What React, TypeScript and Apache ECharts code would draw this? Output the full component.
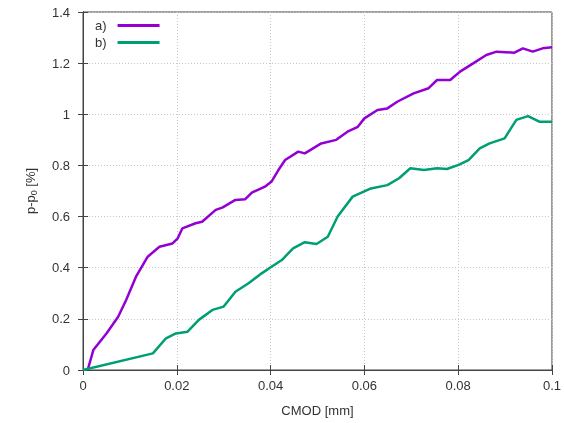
import React, { useEffect, useRef } from "react";
import * as echarts from "echarts";

const seriesNames = ["a)", "b)"];
const xTicks = { min: 0, max: 0.1, interval: 0.02 };
const yTicks = { min: 0, max: 1.4, interval: 0.2 };

const seriesA: [number, number][] = [
  [0.001, 0], [0.0022, 0.078], [0.005, 0.143], [0.0075, 0.208], [0.0092, 0.274],
  [0.0113, 0.365], [0.0138, 0.443], [0.0163, 0.482], [0.0191, 0.495], [0.0202, 0.515],
  [0.0212, 0.554], [0.024, 0.574], [0.0254, 0.58], [0.0283, 0.626], [0.0297, 0.635],
  [0.0325, 0.665], [0.0346, 0.668], [0.036, 0.694], [0.0388, 0.717], [0.0402, 0.737],
  [0.0416, 0.78], [0.0431, 0.821], [0.0459, 0.854], [0.0473, 0.847], [0.0508, 0.886],
  [0.054, 0.9], [0.0564, 0.932], [0.0586, 0.951], [0.06, 0.984], [0.0628, 1.017],
  [0.0649, 1.023], [0.067, 1.049], [0.0705, 1.082], [0.0737, 1.102], [0.0755, 1.134],
  [0.0783, 1.134], [0.0804, 1.167], [0.0832, 1.199], [0.086, 1.232], [0.0882, 1.245],
  [0.092, 1.241], [0.0938, 1.258], [0.0959, 1.245], [0.098, 1.258], [0.1, 1.262],
];

const seriesB: [number, number][] = [
  [0, 0], [0.0149, 0.065], [0.0177, 0.124], [0.0198, 0.143], [0.0223, 0.15],
  [0.0247, 0.196], [0.0276, 0.235], [0.03, 0.248], [0.0325, 0.306], [0.0353, 0.339],
  [0.0381, 0.378], [0.0402, 0.404], [0.0424, 0.43], [0.0448, 0.476], [0.0473, 0.5],
  [0.0498, 0.493], [0.0522, 0.521], [0.0543, 0.6], [0.0575, 0.678], [0.0614, 0.71],
  [0.0649, 0.723], [0.0674, 0.75], [0.0698, 0.789], [0.0727, 0.782], [0.0755, 0.789],
  [0.0776, 0.786], [0.0801, 0.802], [0.0822, 0.821], [0.0846, 0.867], [0.0867, 0.886],
  [0.0899, 0.906], [0.0924, 0.978], [0.0949, 0.993], [0.0973, 0.971], [0.1, 0.971],
];

const colors = ["#9400d3", "#009e73"];
const font = "Liberation Sans, Arial, sans-serif";

export default function App() {
  const ref = useRef<HTMLDivElement>(null);
  useEffect(() => {
    if (!ref.current) return;
    const chart = echarts.init(ref.current, undefined, { renderer: "svg" });
    const gridLine = { show: true, lineStyle: { color: "#c8c8c8", type: [1, 2] as any, width: 1 } };
    const tick = { show: true, inside: true, length: 5, lineStyle: { color: "#444" } };
    chart.setOption({
      animation: false,
      textStyle: { fontFamily: font },
      grid: { left: 83, right: 8, top: 12, bottom: 53, show: true, borderColor: "#444", borderWidth: 1, backgroundColor: "transparent" },
      legend: {
        data: seriesNames,
        orient: "vertical",
        left: 90,
        top: 14,
        align: "right",
        itemWidth: 42,
        itemHeight: 3,
        itemGap: 4,
        icon: "rect",
        textStyle: { fontSize: 13, color: "#333", fontFamily: font, padding: [0, 6, 0, 0] },
      },
      xAxis: [
        {
          type: "value", ...xTicks,
          name: "CMOD [mm]", nameLocation: "middle", nameGap: 34,
          nameTextStyle: { fontSize: 13, color: "#333", fontFamily: font },
          axisLine: { show: true, lineStyle: { color: "#444" } },
          axisTick: tick,
          axisLabel: { fontSize: 13, color: "#333", margin: 9 },
          splitLine: gridLine,
        },
        {
          type: "value", ...xTicks, position: "top",
          axisLine: { show: true, lineStyle: { color: "#444" } },
          axisTick: tick, axisLabel: { show: false }, splitLine: { show: false },
        },
      ],
      yAxis: [
        {
          type: "value", ...yTicks,
          name: "p-p{sub|0} [%]", nameLocation: "middle", nameGap: 45,
          nameTextStyle: {
            fontSize: 13, color: "#333", fontFamily: font,
            rich: { sub: { fontSize: 9, verticalAlign: "bottom", padding: [6, 0, 0, 0], color: "#333" } },
          },
          axisLine: { show: true, lineStyle: { color: "#444" } },
          axisTick: tick,
          axisLabel: { fontSize: 13, color: "#333", margin: 13 },
          splitLine: gridLine,
        },
        {
          type: "value", ...yTicks, position: "right",
          axisLine: { show: true, lineStyle: { color: "#444" } },
          axisTick: tick, axisLabel: { show: false }, splitLine: { show: false },
        },
      ],
      series: [
        { name: seriesNames[0], type: "line", data: seriesA, showSymbol: false, lineStyle: { width: 2.5, color: colors[0] }, itemStyle: { color: colors[0] } },
        { name: seriesNames[1], type: "line", data: seriesB, showSymbol: false, lineStyle: { width: 2.5, color: colors[1] }, itemStyle: { color: colors[1] } },
      ],
    });
    return () => chart.dispose();
  }, []);
  return <div ref={ref} style={{ position: "fixed", left: 0, top: 0, width: 564, height: 423 }} />;
}
